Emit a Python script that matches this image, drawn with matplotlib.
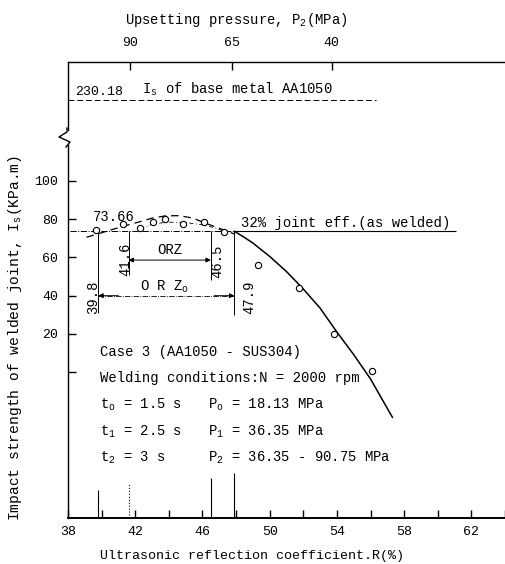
import numpy as np
import matplotlib.pyplot as plt
from matplotlib.lines import Line2D

plt.rcParams['font.family'] = ['Liberation Mono', 'DejaVu Sans']
plt.rcParams['mathtext.fontset'] = 'custom'
plt.rcParams['mathtext.rm'] = 'Liberation Mono'
plt.rcParams['mathtext.it'] = 'Liberation Mono'
plt.rcParams['font.size'] = 10

# Measured points: reflection coefficient R (%) vs impact strength Is (KPa.m)
r_pts = [39.64, 41.27, 42.30, 43.08, 43.80, 44.85, 46.11, 47.26, 49.30, 51.75, 53.82, 56.10]
is_pts = [74.4, 77.2, 75.2, 78.6, 80.1, 77.5, 78.7, 73.5, 56.2, 44.1, 20.2, 0.7]

# dashed trend over the optimum region
hump_r = [39.1, 39.8, 40.5, 41.3, 42.1, 43.0, 43.8, 44.6, 45.4, 46.2, 46.9, 47.5, 47.9]
hump_is = [70.5, 72.3, 74.2, 76.3, 78.2, 80.5, 81.7, 81.8, 80.6, 77.8, 75.5, 73.6, 72.2]

# thin dash-dot lower trend
low_r = [42.3, 43.1, 44.0, 45.0, 46.0, 46.8, 47.3]
low_is = [75.0, 77.6, 78.4, 78.2, 77.0, 75.3, 73.6]

# solid falling curve
fall_r = [47.9, 48.5, 49.0, 50.0, 51.0, 52.0, 53.0, 54.0, 55.0, 56.0, 57.3]
fall_is = [73.66, 70.4, 67.5, 60.5, 52.6, 43.5, 33.5, 21.0, 9.2, -3.5, -23.5]

base_is = 230.18       # Is of base metal AA1050
joint_is = 73.66       # 32% joint efficiency
orz = [41.6, 46.5]
orz0 = [39.8, 47.9]

# top axis: upsetting pressure P2 (MPa)
p2_pos = [41.68, 47.74, 53.69]
p2_lab = ['90', '65', '40']

W, H = 505, 564
def box(x0, y0, x1, y1):
    return [x0 / W, 1 - y1 / H, (x1 - x0) / W, (y1 - y0) / H]

fig = plt.figure(figsize=(W / 100, H / 100), dpi=100)
ax = fig.add_axes(box(68, 145, 505, 518))
axu = fig.add_axes(box(68, 62, 505, 130))

ax.set_xlim(38, 64)
ax.set_ylim(-76.1, 118.7)
axu.set_xlim(38, 64)
axu.set_ylim(200, 268)

for a in (ax, axu):
    a.spines['right'].set_visible(False)
    for s in a.spines.values():
        s.set_linewidth(1.0)
ax.spines['top'].set_visible(False)
ax.spines['bottom'].set_linewidth(1.4)
axu.spines['bottom'].set_visible(False)

# lower axis ticks
ax.set_xticks(np.arange(38, 63, 4))
ax.set_xticks(np.arange(40, 65, 4), minor=True)
ax.set_yticks([0, 20, 40, 60, 80, 100])
ax.set_yticklabels(['', '20', '40', '60', '80', '100'])
ax.tick_params(which='both', direction='in', length=6, width=1.0, labelsize=9.5)
ax.tick_params(axis='x', pad=6)
ax.tick_params(axis='y', pad=7)

# upper axis ticks
axu.set_xticks(p2_pos)
axu.set_xticklabels(p2_lab)
axu.set_yticks([])
axu.tick_params(axis='x', top=True, bottom=False, labeltop=True, labelbottom=False,
                direction='in', length=6, width=1.0, pad=9, labelsize=9.5)

# axis break mark
zx = np.array([67, 67, 59, 70, 66]) / W
zy = 1 - np.array([128, 132, 137, 142, 147]) / H
fig.add_artist(Line2D(zx, zy, color='black', lw=1.0))

# base metal line
axu.hlines(base_is, 38, 56.3, colors='black', linestyles=(0, (6, 3)), lw=0.7)
axu.text(38.42, base_is + 1.5, '230.18', va='bottom', fontsize=9.5)
axu.text(42.38, base_is + 1.5, 'I$_s$ of base metal AA1050', va='bottom', fontsize=10)

# joint efficiency line
ax.hlines(joint_is, 38.1, orz0[1], colors='black', linestyles='-.', lw=0.7)
ax.hlines(joint_is, orz0[1], 61.1, colors='black', lw=0.8)
ax.text(48.32, joint_is + 0.8, '32% joint eff.(as welded)', va='bottom', fontsize=10)
ax.text(40.73, 81.3, '73.66', ha='center', va='center', fontsize=10)

# curves and points
ax.plot(hump_r, hump_is, color='black', lw=0.9, ls=(0, (6, 4)))
ax.plot(low_r, low_is, color='black', lw=0.6, ls=(0, (5, 3, 1, 3)))
ax.plot(fall_r, fall_is, color='black', lw=1.1)
ax.plot(r_pts, is_pts, 'o', ms=4.5, mfc='white', mec='black', mew=0.8, zorder=5)

# dimension lines for ORZ and ORZo
ax.vlines(orz0 + orz, [30.8, 29.9, 50.8, 48.2], joint_is, colors='black', lw=0.7)
ax.vlines(orz0 + orz, -76.1, [-61.5, -52.6, -57.8, -55.2], colors='black', lw=0.8,
          linestyles=['-', '-', ':', '-'])

arr = dict(arrowstyle='<|-|>', lw=0.7, color='black', mutation_scale=7,
           shrinkA=0, shrinkB=0)
ax.annotate('', xy=(orz[0], 58.6), xytext=(orz[1], 58.6), arrowprops=arr)
ax.text(np.mean(orz), 63.9, 'ORZ', ha='center', va='center', fontsize=10)

ax.hlines(40, orz0[0], orz0[1], colors='black', linestyles='-.', lw=0.6)
one = dict(arrowstyle='-|>', lw=0.7, color='black', mutation_scale=7,
           shrinkA=0, shrinkB=0)
ax.annotate('', xy=(orz0[0], 40), xytext=(orz0[0] + 1.2, 40), arrowprops=one)
ax.annotate('', xy=(orz0[1], 40), xytext=(orz0[1] - 1.2, 40), arrowprops=one)
ax.text(43.76, 44.7, 'O R Z$_o$', ha='center', va='center', fontsize=10)

ax.text(39.49, 39.0, '39.8', rotation=90, ha='center', va='center', fontsize=10)
ax.text(41.39, 59.1, '41.6', rotation=90, ha='center', va='center', fontsize=10)
ax.text(46.87, 57.9, '46.5', rotation=90, ha='center', va='center', fontsize=10)
ax.text(48.81, 39.0, '47.9', rotation=90, ha='center', va='center', fontsize=10)

# welding conditions block
ax.text(39.9, 10.6, 'Case 3 (AA1050 - SUS304)', va='center')
ax.text(39.9, -3.0, 'Welding conditions:N = 2000 rpm', va='center')
ax.text(39.9, -17.1, 't$_o$ = 1.5 s', va='center')
ax.text(39.9, -31.2, 't$_1$ = 2.5 s', va='center')
ax.text(39.9, -44.8, 't$_2$ = 3 s', va='center')
ax.text(46.3, -17.1, 'P$_o$ = 18.13 MPa', va='center')
ax.text(46.3, -31.2, 'P$_1$ = 36.35 MPa', va='center')
ax.text(46.3, -44.8, 'P$_2$ = 36.35 - 90.75 MPa', va='center')

# axis titles
fig.text(236 / W, 1 - 20 / H, 'Upsetting pressure, P$_2$(MPa)', ha='center', va='center', fontsize=10)
fig.text(252 / W, 1 - 556 / H, 'Ultrasonic reflection coefficient.R(%)', ha='center', va='center',
         fontsize=9.6)
fig.text(15 / W, 1 - 338 / H, 'Impact strength of welded joint, I$_s$(KPa.m)', rotation=90,
         ha='center', va='center', fontsize=10.5)

fig.savefig('out.png', dpi=100)
